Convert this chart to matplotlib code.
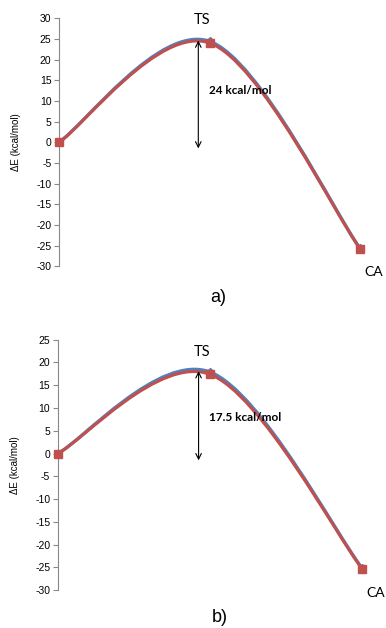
import numpy as np
import matplotlib
matplotlib.use("Agg")
import matplotlib.pyplot as plt
from matplotlib.path import Path
from matplotlib.patches import PathPatch

plt.rcParams["axes.unicode_minus"] = False

# reaction coordinate: reactant, TS, CA
steps = [0, 1, 2]
labels = ["", "TS", "CA"]

# panel a)
a_red = [0, 24.0, -25.8]
a_blue = [0, 24.4, -25.7]
a_barrier = 24
a_ticks = list(range(-30, 31, 5))

# panel b)
b_red = [0, 17.4, -25.3]
b_blue = [0, 17.9, -25.2]
b_barrier = 17.5
b_ticks = list(range(-30, 26, 5))

RED = "#C0504D"
BLUE = "#4F81BD"
CAL = ["Lato", "DejaVu Sans"]
ARI = ["Liberation Sans", "DejaVu Sans"]


def smooth_path(xs, ys):
    # Excel style smoothed line: cubic bezier through the points
    p = np.column_stack([xs, ys]).astype(float)
    n = len(p)
    verts = [p[0]]
    codes = [Path.MOVETO]
    for i in range(n - 1):
        p0 = p[max(i - 1, 0)]
        p1 = p[i]
        p2 = p[i + 1]
        p3 = p[min(i + 2, n - 1)]
        c1 = p1 + (p2 - p0) / 6
        c2 = p2 - (p3 - p1) / 6
        verts += [c1, c2, p2]
        codes += [Path.CURVE4] * 3
    return Path(verts, codes)


def panel(ax, red, blue, ticks, barrier, lab_y, ts_y, ca_y, arrow_top):
    ax.add_patch(PathPatch(smooth_path(steps, blue), fill=False, ec=BLUE, lw=2.4,
                           clip_on=False, zorder=2))
    ax.plot(steps, blue, ls="none", marker="D", ms=4, color=BLUE, clip_on=False, zorder=2)
    ax.add_patch(PathPatch(smooth_path(steps, red), fill=False, ec=RED, lw=2.2,
                           clip_on=False, zorder=3))
    ax.plot(steps, red, ls="none", marker="s", ms=6, color=RED, clip_on=False, zorder=4)

    ax.set_xlim(0, 2)
    ax.set_ylim(ticks[0], ticks[-1])
    ax.set_yticks(ticks)
    ax.set_xticks([])
    for s in ["top", "right", "bottom"]:
        ax.spines[s].set_visible(False)
    ax.spines["left"].set_color("#888888")
    ax.spines["left"].set_linewidth(0.8)
    ax.tick_params(axis="y", direction="out", length=3.5, width=0.8, color="#888888",
                   labelsize=7.5, pad=2)
    for t in ax.get_yticklabels():
        t.set_family(ARI)
    ax.set_ylabel("ΔE (kcal/mol)", fontsize=7, family=ARI)
    ax.yaxis.set_label_coords(-0.125, 0.5)

    ax.annotate("", xy=(0.925, arrow_top), xytext=(0.925, -1.5),
                arrowprops=dict(arrowstyle="<->", color="black", lw=0.8,
                                shrinkA=0, shrinkB=0))
    ax.text(0.995, lab_y, f"{barrier} kcal/mol", fontsize=8.5, fontweight="bold",
            family=CAL, va="center", ha="left")
    ax.text(0.95, ts_y, labels[1], fontsize=10.5, family=CAL, ha="center", va="center",
            clip_on=False)
    ax.text(2.03, ca_y, labels[2], fontsize=10, family=CAL, ha="left", va="center",
            clip_on=False)


fig = plt.figure(figsize=(3.86, 6.28), dpi=100)
ax1 = fig.add_axes([0.153, 0.576, 0.780, 0.395])
ax2 = fig.add_axes([0.150, 0.0605, 0.788, 0.3985])

panel(ax1, a_red, a_blue, a_ticks, a_barrier, 12.6, 29.5, -31.5, 24.6)
panel(ax2, b_red, b_blue, b_ticks, b_barrier, 8.0, 22.3, -30.7, 18.1)

fig.text(218 / 386, 1 - 298 / 628, "a)", fontsize=13, family=ARI, ha="center", va="center")
fig.text(220 / 386, 1 - 618 / 628, "b)", fontsize=13, family=ARI, ha="center", va="center")

fig.savefig("out.png", dpi=100)
